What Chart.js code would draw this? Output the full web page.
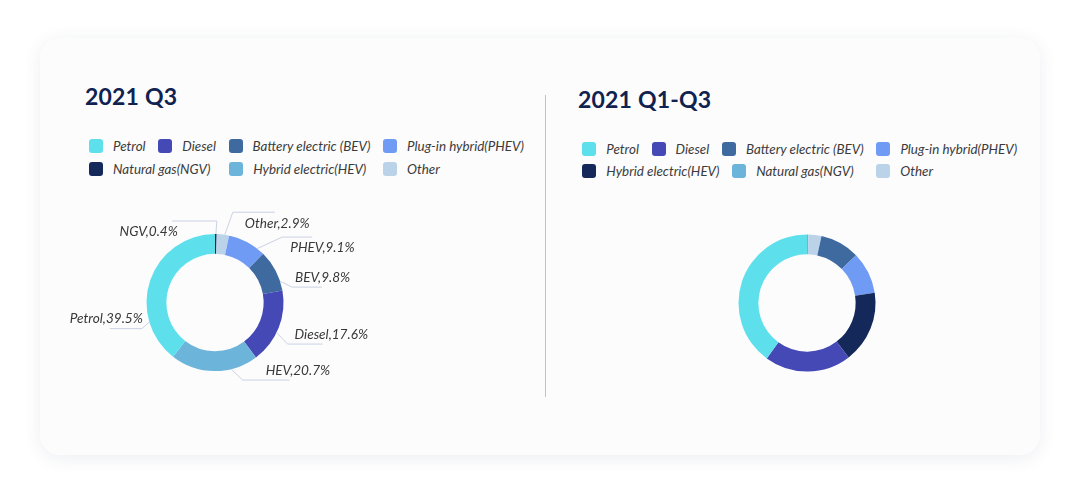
<!DOCTYPE html>
<html>
<head>
<meta charset="utf-8">
<script src="https://cdn.jsdelivr.net/npm/chart.js@4.4.1/dist/chart.umd.min.js"></script>
<style>
  html, body { margin: 0; padding: 0; background: #ffffff; }
  body { width: 1080px; height: 499px; position: relative; overflow: hidden; font-family: Lato, "Open Sans", sans-serif; }
  .card { position: absolute; left: 40px; top: 38px; width: 1000px; height: 417px; background: #fcfcfd; border-radius: 20px; box-shadow: 0 3px 18px rgba(60, 70, 110, 0.09); }
  .divider { position: absolute; left: 545px; top: 95px; width: 1px; height: 302px; background: #a9c8e6; }
  .title { position: absolute; margin: 0; font: 700 23px/1 Lato, sans-serif; color: #0f2250; letter-spacing: 0.2px; }
  .legend { position: absolute; display: flex; flex-wrap: wrap; column-gap: 12.7px; row-gap: 8.7px; }
  .legend .item { display: flex; align-items: center; height: 14px; font: italic 13.4px/14px Lato, sans-serif; color: #3b3b3b; white-space: nowrap; }
  .legend .box { width: 14px; height: 14px; border-radius: 3px; margin-right: 10px; flex: none; }
  canvas { position: absolute; }
</style>
</head>
<body>
<div class="card"></div>
<div class="divider"></div>
<h2 class="title" id="t1" style="left:85px; top:84.5px;">2021 Q3</h2>
<h2 class="title" id="t2" style="left:578px; top:87.5px;">2021 Q1-Q3</h2>
<div class="legend" id="leg1" style="left:89px; top:139.3px; width:450px;"></div>
<div class="legend" id="leg2" style="left:582.3px; top:141.7px; width:450px;"></div>
<canvas id="c1" width="350" height="225" style="left:40px; top:190px;"></canvas>
<canvas id="c2" width="350" height="226" style="left:632px; top:190px;"></canvas>
<script>
// slice order is clockwise from 12 o'clock
const q3Labels = ['NGV', 'Other', 'PHEV', 'BEV', 'Diesel', 'HEV', 'Petrol'];
const q3Values = [0.4, 2.9, 9.1, 9.8, 17.6, 20.7, 39.5];
const ytdLabels = ['NGV', 'Other', 'BEV', 'PHEV', 'HEV', 'Diesel', 'Petrol'];
const ytdValues = [0.3, 3.1, 9.3, 9.9, 17.0, 20.4, 40.0];

// legend order as shown above each chart
const q3Legend = ['Petrol', 'Diesel', 'BEV', 'PHEV', 'NGV', 'HEV', 'Other'];
const ytdLegend = ['Petrol', 'Diesel', 'BEV', 'PHEV', 'HEV', 'NGV', 'Other'];
const legendNames = {
    Petrol: 'Petrol',
    Diesel: 'Diesel',
    BEV: 'Battery electric (BEV)',
    PHEV: 'Plug-in hybrid(PHEV)',
    NGV: 'Natural gas(NGV)',
    HEV: 'Hybrid electric(HEV)',
    Other: 'Other'
};

var q3Colors = {
    Petrol: '#5ee0ec', Diesel: '#4549b6', BEV: '#3e6aa0', PHEV: '#6f9bf5',
    NGV: '#14285a', HEV: '#6cb4d9', Other: '#bad3e8'
};
var ytdColors = Object.assign({}, q3Colors, { HEV: '#14285a', NGV: '#6cb4d9' });

// leader lines for the outside labels:
// at = where on the slice the line starts (0..1), bx/by = bend offset, h = horizontal run
var q3LabelLayout = {
    NGV:    { at: 0.5,  bx: 1,    by: -13,   h: -45, tx: -39, ty: 11,  align: 'right' },
    Other:  { at: 0.65, bx: 8,    by: -22.5, h: 42,  tx: 12,  ty: 11,  align: 'left' },
    PHEV:   { at: 0.8,  bx: 25,   by: -11.5, h: 30,  tx: 8,   ty: 11,  align: 'left' },
    BEV:    { at: 0.77, bx: 12,   by: 6,     h: 30,  tx: 3,   ty: -10, align: 'left' },
    Diesel: { at: 0.57, bx: 11,   by: 11.5,  h: 35,  tx: 7,   ty: -9,  align: 'left' },
    HEV:    { at: 0.31, bx: 11.5, by: 11,    h: 47,  tx: 23,  ty: -9,  align: 'left' },
    Petrol: { at: 0.25, bx: -7.5, by: 6.5,   h: -32, tx: 1,   ty: -10, align: 'right' }
};

var outsideLabels = {
    id: 'outsideLabels',
    afterDatasetsDraw: function(chart, args, opts) {
        if (!opts.layout) {
            return;
        }
        var ctx = chart.ctx;
        var meta = chart.getDatasetMeta(0);
        var values = chart.data.datasets[0].data;
        ctx.save();
        meta.data.forEach(function(arc, i) {
            var name = chart.data.labels[i];
            var l = opts.layout[name];
            if (!l) {
                return;
            }
            var a = arc.startAngle + (arc.endAngle - arc.startAngle) * l.at;
            var ex = arc.x + Math.cos(a) * arc.outerRadius;
            var ey = arc.y + Math.sin(a) * arc.outerRadius;
            var bx = ex + l.bx,
                by = ey + l.by;
            ctx.strokeStyle = '#cbd1e2';
            ctx.lineWidth = 1;
            ctx.beginPath();
            ctx.moveTo(ex, ey);
            ctx.lineTo(bx, by);
            ctx.lineTo(bx + l.h, by);
            ctx.stroke();
            ctx.fillStyle = '#383838';
            ctx.font = 'italic 13.6px Lato, sans-serif';
            ctx.textAlign = l.align;
            ctx.textBaseline = 'middle';
            ctx.fillText(name + ',' + values[i].toFixed(1) + '%', bx + l.tx, by + l.ty);
        });
        ctx.restore();
    }
};

function buildLegend(el, order, colors) {
    order.forEach(function(key) {
        var item = document.createElement('div');
        item.className = 'item';
        var box = document.createElement('span');
        box.className = 'box';
        box.style.background = colors[key];
        item.appendChild(box);
        item.appendChild(document.createTextNode(legendNames[key]));
        el.appendChild(item);
    });
    // second row items snap forward onto a first-row column when they are close to it
    var items = Array.prototype.slice.call(el.children);
    var firstTop = items[0].offsetTop;
    var cols = items.filter(function(it) { return it.offsetTop === firstTop; })
        .map(function(it) { return it.offsetLeft; });
    items.forEach(function(it) {
        if (it.offsetTop === firstTop) {
            return;
        }
        var left = it.offsetLeft;
        var col = cols.find(function(c) { return c >= left && c - left <= 12; });
        if (col !== undefined) {
            it.style.marginLeft = (col - left) + 'px';
        }
    });
}

function makeDonut(canvasId, labels, values, colors, labelLayout) {
    var ctx = document.getElementById(canvasId);
    return new Chart(ctx, {
        type: 'doughnut',
        data: {
            labels: labels,
            datasets: [{
                data: values,
                backgroundColor: labels.map(function(l) { return colors[l]; }),
                borderWidth: 0
            }]
        },
        options: {
            responsive: false,
            animation: false,
            events: [],
            radius: 68.5,
            cutout: '71%',
            layout: { padding: 0 },
            plugins: {
                legend: { display: false },
                tooltip: { enabled: false },
                outsideLabels: { layout: labelLayout }
            }
        },
        plugins: [outsideLabels]
    });
}

buildLegend(document.getElementById('leg1'), q3Legend, q3Colors);
buildLegend(document.getElementById('leg2'), ytdLegend, ytdColors);
makeDonut('c1', q3Labels, q3Values, q3Colors, q3LabelLayout);
makeDonut('c2', ytdLabels, ytdValues, ytdColors, null);
</script>
</body>
</html>
